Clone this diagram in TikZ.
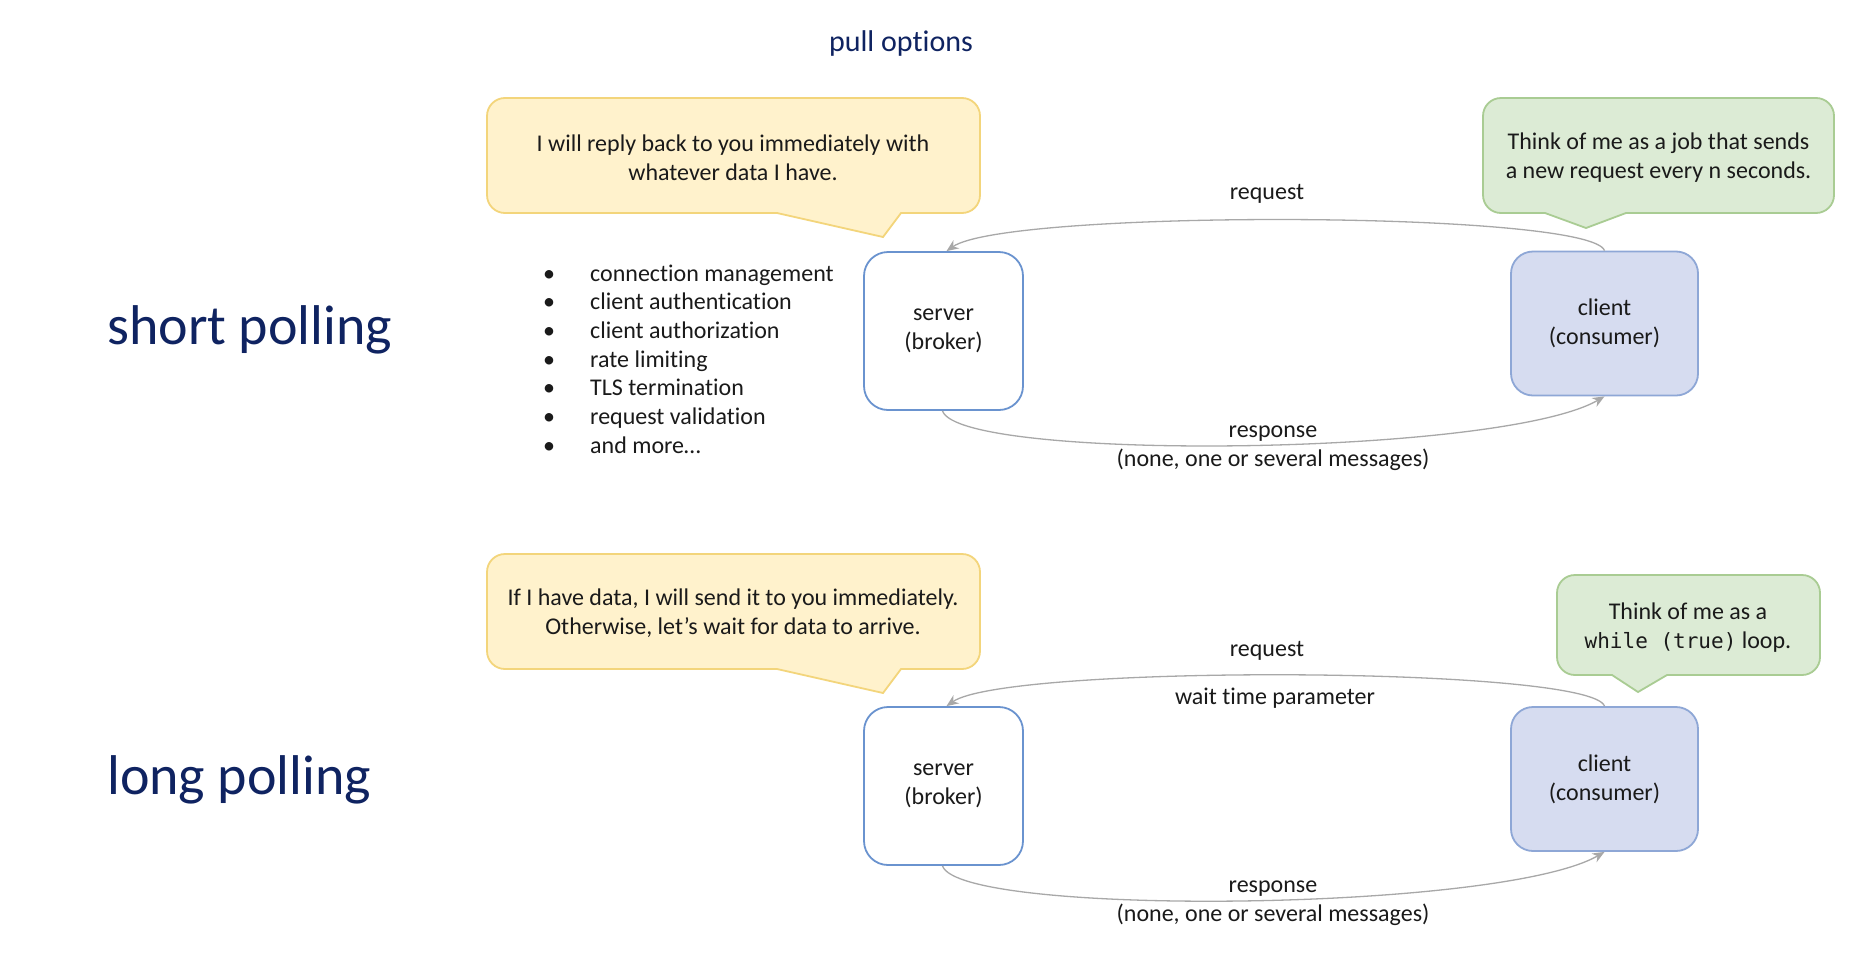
\documentclass[tikz,border=0pt]{standalone}
\usepackage{fontspec}
\setmainfont{Carlito}[Ligatures=NoCommon]
\setmonofont{DejaVu Sans Mono}
\usetikzlibrary{arrows.meta}
\definecolor{navy}{HTML}{0F2361}
\definecolor{ink}{HTML}{1A1A1A}
\definecolor{yfill}{HTML}{FFF2CC}
\definecolor{ydraw}{HTML}{F3D57B}
\definecolor{gfill}{HTML}{DCEBD5}
\definecolor{gdraw}{HTML}{A9CC93}
\definecolor{cfill}{HTML}{D6DCF0}
\definecolor{cdraw}{HTML}{8EA7D6}
\definecolor{sdraw}{HTML}{6A93CF}
\definecolor{arrowgray}{HTML}{A8A8A8}
% #1 x0, #2 y0, #3 x1, #4 y1, #5 tail left, #6 tail right, #7 tip x, #8 tip y, #9 style
\newcommand{\speechbubble}[9]{%
  \draw[#9] ({#1+18},#2) -- ({#3-18},#2) .. controls ({#3-8},#2) and (#3,{#2+8}) .. (#3,{#2+18})
    -- (#3,{#4-18}) .. controls (#3,{#4-8}) and ({#3-8},#4) .. ({#3-18},#4)
    -- (#6,#4) -- (#7,#8) -- (#5,#4)
    -- ({#1+18},#4) .. controls ({#1+8},#4) and (#1,{#4-8}) .. (#1,{#4-18})
    -- (#1,{#2+18}) .. controls (#1,{#2+8}) and ({#1+8},#2) .. ({#1+18},#2) -- cycle;}
\begin{document}
\begin{tikzpicture}[x=1pt,y=-1pt,
  txt/.style={font=\fontsize{24}{29}\selectfont, text=ink, inner sep=0pt, align=center},
  itm/.style={font=\fontsize{24}{29}\selectfont, text=ink, inner sep=0pt},
  serverbox/.style={txt, draw=sdraw, line width=1.8pt, fill=white, rounded corners=24pt,
    minimum width=159pt, minimum height=158pt},
  clientbox/.style={txt, draw=cdraw, line width=1.8pt, fill=cfill, rounded corners=22pt,
    minimum width=187pt, minimum height=144pt},
  conn/.style={draw=arrowgray, line width=1.3pt, -{Stealth[length=12pt,width=10pt]}},
  big/.style={font=\fontsize{56}{60}\selectfont, text=navy, anchor=west, inner sep=0pt},
  ybub/.style={fill=yfill, draw=ydraw, line width=1.8pt},
  gbub/.style={fill=gfill, draw=gdraw, line width=1.8pt}]
\useasboundingbox[fill=white] (0,0) rectangle (1859,956);

\node[font=\fontsize{30}{36}\selectfont, text=navy, inner sep=0pt] (title) at (901,43) {pull options};

% ---------- short polling ----------
\node[big] (sp) at (107,330) {short polling};

\speechbubble{487}{98}{980}{213}{777}{901}{883}{237}{ybub}
\node[txt] (yb1t) at (733,158) {I will reply back to you immediately with\\whatever data I have.};

\speechbubble{1483}{98}{1834}{213}{1545}{1626}{1586}{228}{gbub}
\node[txt] (gb1t) at (1658.5,158) {Think of me as a job that sends\\a new request every n seconds.};

\foreach \t [count=\i] in {connection management, client authentication, client authorization, rate limiting, TLS termination, request validation, and more…}{
  \node[itm, anchor=base] (bu\i) at (549,{281+(\i-1)*28.7}) {\textbullet};
  \node[itm, anchor=base west] (li\i) at (590,{281+(\i-1)*28.7}) {\t};
}

\node[serverbox] (s1) at (943.5,331) {server\\(broker)};
\node[clientbox] (c1) at (1604.5,323.5) {client\\(consumer)};

\draw[conn] (c1.north) .. controls +(-14,-40) and +(60,-42) .. ([xshift=3pt]s1.north);
\draw[conn] ([xshift=-1pt]s1.south) .. controls +(17,51) and +(-104,60) .. (c1.south);
\node[txt] (req1) at (1267,194) {request};
\node[txt] (resp1) at (1273,448) {response\\(none, one or several messages)};

% ---------- long polling ----------
\node[big] (lp) at (107,780) {long polling};

\speechbubble{487}{554}{980}{669}{777}{901}{883}{693}{ybub}
\node[txt] (yb2t) at (733,613) {If I have data, I will send it to you immediately.\\Otherwise, let’s wait for data to arrive.};

\speechbubble{1557}{575}{1820}{675}{1612}{1667}{1638}{692}{gbub}
\node[txt] (gb2t) at (1688,628) {Think of me as a\\{\fontsize{21}{29}\selectfont\ttfamily while (true)} loop.};

\node[serverbox] (s2) at (943.5,786) {server\\(broker)};
\node[clientbox] (c2) at (1604.5,779) {client\\(consumer)};

\draw[conn] (c2.north) .. controls +(-14,-40) and +(60,-42) .. ([xshift=3pt]s2.north);
\draw[conn] ([xshift=-1pt]s2.south) .. controls +(17,51) and +(-104,60) .. (c2.south);
\node[txt] (req2) at (1267,651) {request};
\node[txt] (wait2) at (1275,698) {wait time parameter};
\node[txt] (resp2) at (1273,903) {response\\(none, one or several messages)};
\end{tikzpicture}
\end{document}
